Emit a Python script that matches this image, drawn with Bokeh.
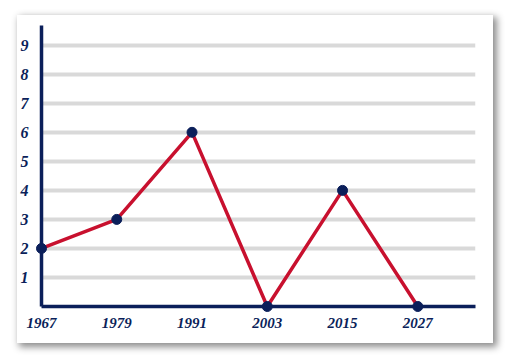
from bokeh.plotting import figure
from bokeh.models import FixedTicker, Range1d
from bokeh.embed import file_html
from bokeh.resources import INLINE

# Series
years = [1967, 1979, 1991, 2003, 2015, 2027]
values = [2, 3, 6, 0, 4, 0]

# Tick labels
x_ticks = [1967, 1979, 1991, 2003, 2015, 2027]
y_ticks = [1, 2, 3, 4, 5, 6, 7, 8, 9]

NAVY = "#0b1f5a"
RED = "#c8102e"
GRID = "#d9d9d9"
FONT = "Liberation Serif"

p = figure(
    width=476, height=328,
    x_range=Range1d(1967, 2036.2),
    y_range=Range1d(0, 9.68),
    output_backend="svg",
    toolbar_location=None,
    min_border_left=24, min_border_right=18,
    min_border_top=10, min_border_bottom=37,
    background_fill_color="white",
    border_fill_color="white",
)
p.margin = (15, 0, 0, 17)
p.styles = {"box-shadow": "3px 3px 7px 1px rgba(0,0,0,0.45)"}
p.outline_line_color = None

# grid
p.xgrid.visible = False
p.ygrid.ticker = FixedTicker(ticks=y_ticks)
p.ygrid.grid_line_color = GRID
p.ygrid.grid_line_width = 4

# axes
for ax in (p.xaxis[0], p.yaxis[0]):
    ax.axis_line_color = NAVY
    ax.axis_line_width = 3.5
    ax.major_tick_line_color = None
    ax.minor_tick_line_color = None
    ax.major_label_text_color = NAVY
    ax.major_label_text_font = FONT
    ax.major_label_text_font_style = "bold italic"

p.xaxis.ticker = FixedTicker(ticks=x_ticks)
p.xaxis.major_label_text_font_size = "15px"
p.xaxis.major_label_standoff = 5
p.yaxis.ticker = FixedTicker(ticks=y_ticks)
p.yaxis.major_label_text_font_size = "16px"
p.yaxis.major_label_standoff = 7

p.line(years, values, line_color=RED, line_width=3.5, level="overlay")
p.scatter(years, values, size=10, fill_color=NAVY, line_color=NAVY, level="overlay")

open("out.html", "w").write(file_html(p, INLINE))
